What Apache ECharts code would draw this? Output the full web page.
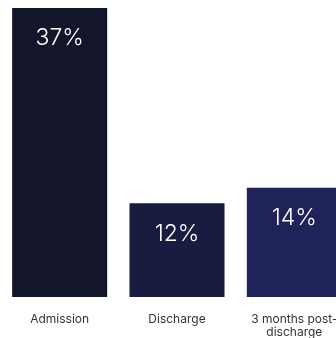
<!DOCTYPE html>
<html>
<head>
<meta charset="utf-8">
<script src="https://cdn.jsdelivr.net/npm/echarts@6/dist/echarts.min.js"></script>
<style>
  html, body { margin: 0; padding: 0; background: #fff; }
  #main { width: 336px; height: 338px; }
</style>
</head>
<body>
<div id="main"></div>
<script>
  // 数据
  const categories = ['Admission', 'Discharge', '3 months post-discharge'];
  const values = [37, 12, 14];
  const barColors = ['#13162b', '#181c40', '#1f2359'];

  const chart = echarts.init(document.getElementById('main'));

  const option = {
    animation: false,
    grid: {
      left: 1,
      top: 8,
      bottom: 41,
      width: 352,
      containLabel: false,
      outerBoundsMode: 'none'
    },
    xAxis: {
      type: 'category',
      data: categories,
      axisLine: { show: false },
      axisTick: { show: false },
      axisLabel: {
        interval: 0,
        margin: 16,
        color: '#333',
        fontFamily: 'Inter',
        fontSize: 12,
        lineHeight: 13,
        formatter: function (v) { return v.replace('post-', 'post-\n'); }
      }
    },
    yAxis: {
      type: 'value',
      min: 0,
      max: 37,
      show: false
    },
    series: [
      {
        type: 'bar',
        barWidth: '81%',
        data: values.map(function (v, i) {
          return { value: v, itemStyle: { color: barColors[i] } };
        }),
        label: {
          show: true,
          position: 'insideTop',
          distance: 19,
          color: '#fff',
          fontFamily: 'Inter',
          fontWeight: 300,
          fontSize: 23,
          formatter: '{c}%'
        }
      }
    ]
  };

  chart.setOption(option);
</script>
</body>
</html>
